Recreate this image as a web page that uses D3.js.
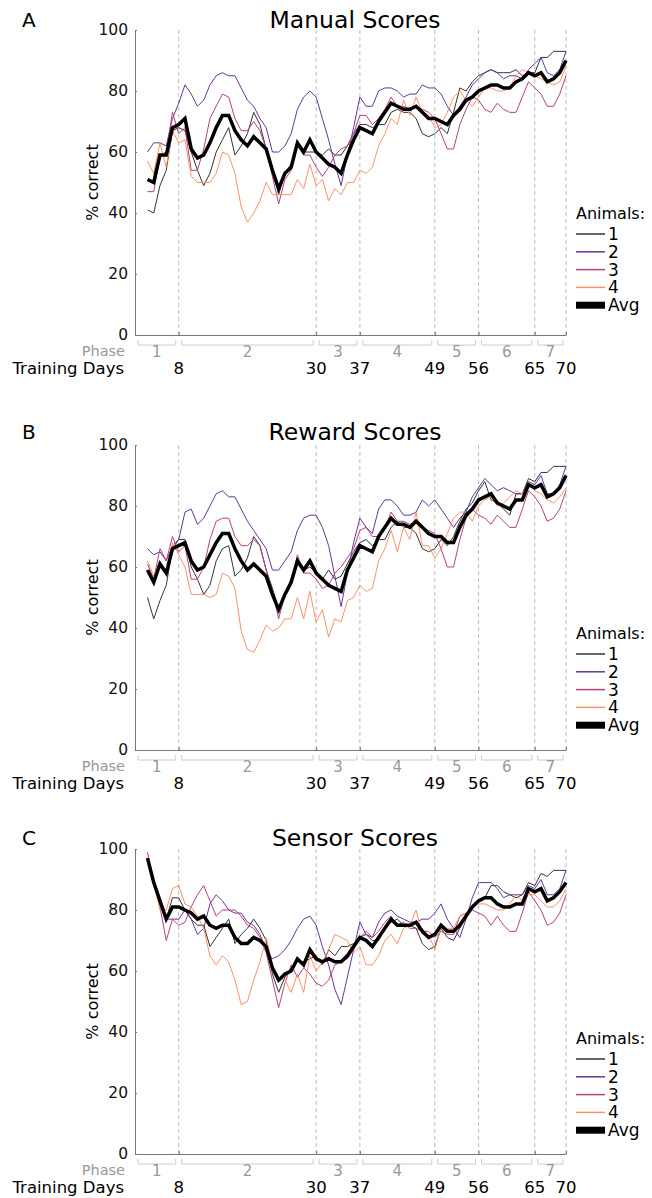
<!DOCTYPE html>
<html lang="en">
<head>
<meta charset="UTF-8" />
<title>Scores</title>
<script src="https://cdn.jsdelivr.net/npm/d3@7"></script>
<style>
  body { margin: 0; background: #fff; }
  svg text { font-family: "DejaVu Sans", sans-serif; }
</style>
</head>
<body>
<div id="chart"></div>
<script>
// training days with data (day 3 .. day 70)
const days = d3.range(3, 71);
const phaseEnds = [8, 30, 37, 49, 56, 65, 70];
const phaseNames = ["1", "2", "3", "4", "5", "6", "7"];
const yTicks = [0, 20, 40, 60, 80, 100];
const animalNames = ["1", "2", "3", "4", "Avg"];
const animalColors = ["#333333", "#66359a", "#b93f80", "#f99367", "#000000"];

// Manual scores
const manual1 = [41,40,49,54,67,68,67,60,54,49,53,60,64,68,59,62,66,73,69,61,54,46,53,56,62,60,60,60,59,61,59,59,62,66,69,69,68,69,69,73,
  74,73,73,71,66,65,66,68,66,73,81,80,83,85,86,87,86,86,86,87,85,86,86,91,91,93,93,93];
const manual2 = [60,63,63,62,71,76,82,79,75,77,82,85,86,85,85,81,77,75,71,68,60,60,62,66,74,78,80,78,71,64,56,49,59,68,78,75,75,80,81,81,
  80,78,79,79,82,81,81,79,75,72,75,78,82,84,86,87,86,84,85,85,84,87,89,91,86,85,87,93];
const manual3 = [47,47,59,60,73,66,68,54,54,61,71,75,79,78,71,67,67,70,67,61,52,43,51,54,62,59,59,55,52,55,59,61,62,66,72,72,69,71,74,78,
  75,75,74,75,74,73,71,66,61,61,69,74,78,77,74,73,76,74,73,73,78,83,81,79,75,75,79,85];
const manual4 = [57,53,63,55,67,63,64,52,50,50,50,53,60,59,53,42,37,40,44,50,46,46,46,46,51,48,56,49,51,44,48,46,50,50,54,53,55,62,66,71,
  69,77,72,78,73,72,68,69,73,78,80,77,75,78,81,81,80,80,81,85,87,86,85,84,83,82,83,88];
const manualAvg = [51,50,59,59,68,69,71,61,58,59,63,68,72,72,67,64,62,65,63,61,54,48,53,55,63,60,64,60,58,56,55,53,59,64,68,67,66,70,73,76,
  75,74,74,75,73,71,71,70,69,72,74,77,78,80,81,82,82,81,81,83,84,86,85,86,83,84,86,90];

// Reward scores
const reward1 = [50,43,49,54,66,69,69,60,56,51,54,62,66,67,57,59,63,70,67,59,53,46,51,56,63,59,60,58,56,59,56,57,61,65,68,69,67,69,69,73,
  75,73,73,71,66,65,66,69,67,70,75,79,81,85,88,82,81,79,77,84,84,89,88,91,91,93,93,93];
const reward2 = [66,64,65,62,67,69,78,79,74,76,80,84,85,83,83,79,75,72,69,66,59,59,62,65,72,76,77,77,73,67,57,47,58,68,76,73,71,79,82,82,
  80,77,77,78,82,80,82,79,76,73,76,78,83,86,89,87,85,86,85,84,84,88,87,90,84,84,87,93];
const reward3 = [61,56,66,62,70,65,67,56,56,60,69,75,76,76,70,67,67,69,67,59,52,43,51,54,64,58,58,56,53,54,58,60,63,66,72,73,70,70,73,78,
  75,75,74,75,73,72,71,66,60,60,69,76,79,77,76,74,77,75,73,73,79,85,83,80,75,76,79,85];
const reward4 = [62,57,62,58,68,64,60,51,51,51,50,51,58,57,53,39,33,32,36,41,39,40,43,43,50,43,52,42,46,37,43,42,49,50,54,52,53,62,66,72,
  65,73,69,78,67,67,63,66,71,76,78,78,75,80,82,83,80,81,83,85,84,87,85,84,82,81,83,86];
const rewardAvg = [59,55,61,58,66,67,68,62,59,60,64,68,71,71,66,62,59,61,59,57,51,46,51,55,62,59,62,58,56,54,53,52,59,63,67,66,65,70,73,76,
  74,74,73,75,73,71,70,70,68,68,73,77,79,82,83,84,81,80,79,82,82,87,86,87,83,84,86,90];

// Sensor scores
const sensor1 = [96,89,83,77,84,84,80,77,75,75,68,71,74,77,69,72,74,77,74,70,59,53,58,61,63,63,64,65,62,67,65,68,68,69,71,72,70,70,74,76,
  77,75,75,74,69,67,68,74,71,70,74,78,81,83,84,88,88,86,85,84,85,89,88,92,91,93,93,93];
const sensor2 = [96,88,83,77,77,77,80,77,72,74,82,85,83,80,79,79,76,75,72,67,64,65,67,70,74,77,78,75,68,62,54,49,58,67,76,72,71,76,79,80,
  78,77,76,76,77,77,79,82,77,74,71,77,84,89,89,89,87,84,85,85,85,88,87,90,85,85,87,93];
const sensor3 = [99,89,81,70,77,75,76,81,85,88,83,78,80,80,80,78,75,74,71,66,57,48,56,62,58,61,59,56,55,57,62,63,64,67,71,73,71,73,76,78,
  75,76,74,74,73,73,71,73,72,72,78,79,80,79,78,75,78,75,73,73,79,86,83,80,75,76,79,85];
const sensor4 = [98,89,80,80,87,88,82,81,78,74,65,62,65,63,57,49,50,57,63,71,62,58,57,53,59,53,65,60,63,67,72,71,70,66,68,62,62,65,70,72,
  69,74,75,80,72,72,67,74,74,74,78,79,81,82,82,81,80,80,82,85,83,85,85,83,81,81,83,87];
const sensorAvg = [97,89,83,77,81,81,80,79,77,78,75,74,75,75,71,69,69,71,70,68,61,57,59,60,64,62,67,64,63,64,63,63,65,68,71,70,68,71,74,77,
  75,75,75,76,73,71,72,75,73,73,75,78,81,83,84,84,82,81,81,82,82,87,86,87,83,84,86,89];

const panels = [
  { letter: "A", title: "Manual Scores", top: 30, titleY: 28, legendTop: 213, series: [manual1, manual2, manual3, manual4, manualAvg] },
  { letter: "B", title: "Reward Scores", top: 445, titleY: 440, legendTop: 633, series: [reward1, reward2, reward3, reward4, rewardAvg] },
  { letter: "C", title: "Sensor Scores", top: 849, titleY: 846, legendTop: 1038, series: [sensor1, sensor2, sensor3, sensor4, sensorAvg] }
];

const width = 652, height = 1198;
const left = 135, right = 566, plotH = 305;

const svg = d3.select("#chart").append("svg")
  .attr("width", width)
  .attr("height", height);

const x = d3.scaleLinear().domain([1, 70]).range([left, right]);
const y = d3.scaleLinear().domain([0, 100]).range([plotH, 0]);

const line = d3.line()
  .x((d, i) => x(days[i]))
  .y(d => y(d));

panels.forEach(p => {
  const g = svg.append("g").attr("transform", `translate(0,${p.top})`);

  // panel letter + title
  svg.append("text").attr("x", 22).attr("y", p.titleY - 1)
    .attr("font-size", 20).text(p.letter);
  svg.append("text").attr("x", 355).attr("y", p.titleY)
    .attr("text-anchor", "middle").attr("font-size", 23.5).text(p.title);

  // phase boundaries
  g.append("g").selectAll("line")
    .data(phaseEnds)
    .join("line")
      .attr("x1", d => x(d)).attr("x2", d => x(d))
      .attr("y1", 0).attr("y2", plotH)
      .attr("stroke", "#bbb")
      .attr("stroke-dasharray", "4,3");

  // y axis
  g.append("g")
    .attr("transform", `translate(${left},0)`)
    .call(d3.axisLeft(y).tickValues(yTicks).tickSize(-2).tickSizeOuter(0).tickPadding(7))
    .call(a => a.select(".domain").attr("stroke", "#777"))
    .call(a => a.selectAll(".tick line").attr("stroke", "#777"))
    .call(a => a.selectAll(".tick text").attr("font-size", 15.5).attr("fill", "#111")
      .attr("font-family", "DejaVu Sans, sans-serif"));

  // x axis
  g.append("g")
    .attr("transform", `translate(0,${plotH})`)
    .call(d3.axisBottom(x).tickValues(phaseEnds).tickSize(-3).tickSizeOuter(0).tickFormat(""))
    .call(a => a.select(".domain").attr("stroke", "#777"))
    .call(a => a.selectAll(".tick line").attr("stroke", "#777"));

  g.append("text")
    .attr("transform", `translate(98,${plotH / 2}) rotate(-90)`)
    .attr("text-anchor", "middle").attr("font-size", 16)
    .text("% correct");

  // phase brackets
  const bounds = [1, ...phaseEnds];
  const by = plotH + 10;
  const br = g.append("g");
  phaseNames.forEach((name, i) => {
    const xa = x(bounds[i]) + 3, xb = x(bounds[i + 1]) - 3;
    br.append("path")
      .attr("d", `M${xa},${by - 5}V${by}H${xb}V${by - 5}`)
      .attr("fill", "none").attr("stroke", "#ccc");
    br.append("text")
      .attr("x", (xa + xb) / 2).attr("y", plotH + 22)
      .attr("text-anchor", "middle").attr("font-size", 15).attr("fill", "#999")
      .text(name);
  });
  g.append("text").attr("x", 125).attr("y", plotH + 21)
    .attr("text-anchor", "end").attr("font-size", 14.5).attr("fill", "#999").text("Phase");
  g.append("text").attr("x", 124).attr("y", plotH + 38.5)
    .attr("text-anchor", "end").attr("font-size", 16.5).text("Training Days");
  g.append("g").selectAll("text")
    .data(phaseEnds)
    .join("text")
      .attr("x", d => x(d)).attr("y", plotH + 38.5)
      .attr("text-anchor", "middle").attr("font-size", 16.5)
      .text(d => d);

  // lines
  g.append("g").selectAll("path")
    .data(p.series)
    .join("path")
      .attr("d", line)
      .attr("fill", "none")
      .attr("stroke", (d, i) => animalColors[i])
      .attr("stroke-width", (d, i) => i === 4 ? 3.5 : 1);

  // legend
  const lg = svg.append("g").attr("transform", `translate(576,${p.legendTop})`);
  lg.append("text").attr("x", 0).attr("y", 6).attr("font-size", 16).text("Animals:");
  animalNames.forEach((name, i) => {
    const ly = 21 + i * 17.8;
    lg.append("line").attr("x1", 0).attr("x2", 29).attr("y1", ly).attr("y2", ly)
      .attr("stroke", animalColors[i]).attr("stroke-width", i === 4 ? 7 : 1.5);
    lg.append("text").attr("x", 32).attr("y", ly + 6).attr("font-size", 17).text(name);
  });
});
</script>
</body>
</html>
